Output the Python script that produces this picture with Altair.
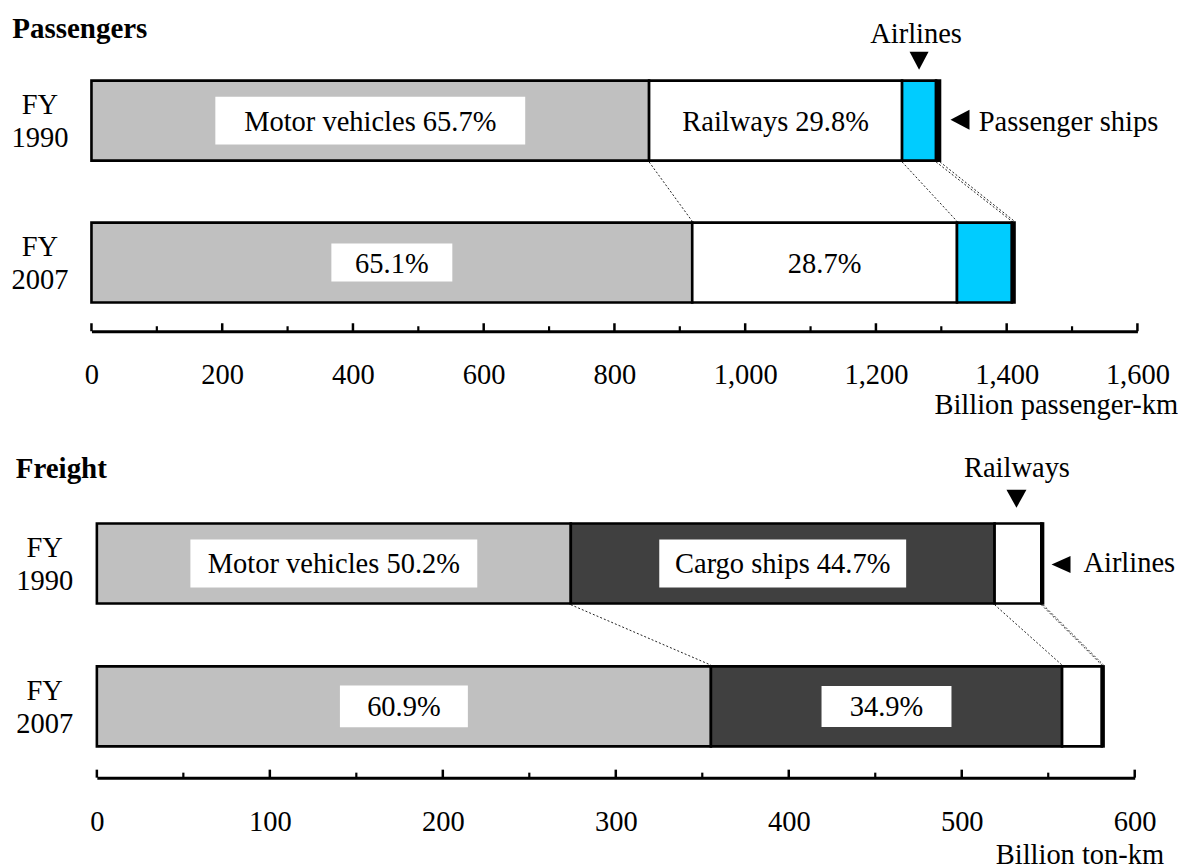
import altair as alt
import pandas as pd

# ---------------- data ----------------
YEARS = ["FY 1990", "FY 2007"]

P_MODES = ["Motor vehicles", "Railways", "Airlines", "Passenger ships"]
P_1990 = [853, 387, 52, 6]
P_2007 = [919, 405, 84, 4]
P_SHARE_1990 = [65.7, 29.8]
P_SHARE_2007 = [65.1, 28.7]
P_TICKS = [0, 200, 400, 600, 800, 1000, 1200, 1400, 1600]
P_MINOR = [100, 300, 500, 700, 900, 1100, 1300, 1500]

F_MODES = ["Motor vehicles", "Cargo ships", "Railways", "Airlines"]
F_1990 = [274, 245, 27, 1]
F_2007 = [355, 203, 23, 1]
F_SHARE_1990 = [50.2, 44.7]
F_SHARE_2007 = [60.9, 34.9]
F_TICKS = [0, 100, 200, 300, 400, 500, 600]
F_MINOR = [50, 150, 250, 350, 450, 550]

# ---------------- style ----------------
FONT = "Liberation Serif"
FS = 28.5
P_COLORS = ["#c0c0c0", "#ffffff", "#00ccff", "#000000"]
F_COLORS = ["#c0c0c0", "#404040", "#ffffff", "#ffffff"]
# white label boxes (width, height) keyed by (year index, segment index)
P_BOX = {(0, 0): (310, 48), (1, 0): (121, 38)}
F_BOX = {(0, 0): (287, 48), (0, 1): (247, 48), (1, 0): (128, 42), (1, 1): (130, 41)}


def rect_path(w, h):
    r = h / w
    return f"M-1,{-r:.4f}L1,{-r:.4f}L1,{r:.4f}L-1,{r:.4f}Z"


def down_path(w, h):
    r = h / w
    return f"M-1,{-r:.4f}L1,{-r:.4f}L0,{r:.4f}Z"


def left_path(w, h):
    r = h / w
    return f"M1,{-r:.4f}L1,{r:.4f}L-1,0Z"


def panel(title, modes, vals, shares, colors, boxes, xmax, ticks, minor, unit,
          width, xrange, height, yrange, pad_inner, title_dx, title_dy,
          ylab_pad, ylab_off, unit_x, unit_y, top_note, right_note):
    rows, conn, labels = [], [], []
    cums = []
    for yi, (year, vv) in enumerate(zip(YEARS, vals)):
        cum = 0
        ends = []
        for i, (m, v) in enumerate(zip(modes, vv)):
            rows.append(dict(year=year, mode=m, value=v, order=i))
            cum += v
            ends.append(cum)
        cums.append(ends)
        for i, s in enumerate(shares[yi]):
            mid = sum(vv[:i]) + vv[i] / 2
            txt = (f"{modes[i]} {s}%" if yi == 0 else f"{s}%")
            w, h = boxes.get((yi, i), (2, 2))
            labels.append(dict(year=year, mid=mid, label=txt, path=rect_path(w, h),
                               size=w * w, show=1 if (yi, i) in boxes else 0))
    for a, b in zip(cums[0], cums[1]):
        conn.append(dict(year=YEARS[0], year2=YEARS[1], a=a, b=b))

    bars_df = pd.DataFrame(rows)
    conn_df = pd.DataFrame(conn)
    lab_df = pd.DataFrame(labels)
    box_df = lab_df[lab_df["show"] == 1]

    xscale = alt.Scale(domain=[0, xmax], range=xrange, nice=False, zero=True)
    yscale = alt.Scale(domain=YEARS, range=yrange, paddingInner=pad_inner, paddingOuter=0)

    xaxis = alt.Axis(
        title=unit, values=ticks, format=",d", labelFont=FONT, labelFontSize=FS,
        labelColor="black", labelBaseline="middle", labelPadding=43.5,
        labelFlush=False, labelOverlap=False, ticks=False, tickSize=0,
        domainColor="black", domainWidth=3, grid=False, titleFont=FONT,
        titleFontSize=FS, titleFontWeight="normal", titleColor="black",
        titleX=unit_x, titleY=unit_y, titleAlign="right", titleBaseline="middle",
        titleAngle=0,
    )
    yaxis = alt.Axis(
        title=None, domain=False, ticks=False, tickSize=0, grid=False, labelFont=FONT,
        labelFontSize=FS, labelColor="black", labelAlign="center",
        labelBaseline="middle", labelPadding=ylab_pad, labelLineHeight=33,
        labelOffset=ylab_off, labelExpr="split(datum.label, ' ')",
    )

    def X(field, **kw):
        return alt.X(field, scale=xscale, axis=xaxis, **kw)

    def Y(field):
        return alt.Y(field, scale=yscale, axis=yaxis, sort=YEARS)

    bars = alt.Chart(bars_df).mark_bar(stroke="black", strokeWidth=2.6).encode(
        x=X("value:Q", stack="zero"),
        y=Y("year:N"),
        color=alt.Color("mode:N", scale=alt.Scale(domain=modes, range=colors), legend=None),
        order=alt.Order("order:Q"),
    )

    connectors = alt.Chart(conn_df).mark_rule(
        color="#222", strokeWidth=1, strokeDash=[2, 2], yOffset=41.3, y2Offset=-41.3
    ).encode(x=X("a:Q"), x2="b:Q", y=Y("year:N"), y2="year2:N")

    major = alt.Chart(pd.DataFrame({"t": ticks})).mark_rule(color="black", strokeWidth=2.5).encode(
        x=X("t:Q"), y=alt.value(height - 8), y2=alt.value(height)
    )
    minor_r = alt.Chart(pd.DataFrame({"t": minor})).mark_rule(color="black", strokeWidth=2.2).encode(
        x=X("t:Q"), y=alt.value(height - 5), y2=alt.value(height)
    )

    box = alt.Chart(box_df).mark_point(filled=True, fill="white", opacity=1, strokeWidth=0).encode(
        x=X("mid:Q"), y=Y("year:N"),
        shape=alt.Shape("path:N", scale=None), size=alt.Size("size:Q", scale=None),
    )
    text = alt.Chart(lab_df).mark_text(
        font=FONT, fontSize=FS, color="black", align="center", baseline="middle", dy=1
    ).encode(x=X("mid:Q"), y=Y("year:N"), text="label:N")

    # annotation above the bar (segment index k of FY 1990)
    k, ttxt, tdx, tdy, tri_dx, tri_dy, tw, th = top_note
    tnote = pd.DataFrame([dict(year=YEARS[0], x=sum(vals[0][:k]) + vals[0][k] / 2, label=ttxt,
                               path=down_path(tw, th), size=tw * tw)])
    top_text = alt.Chart(tnote).mark_text(
        font=FONT, fontSize=FS, color="black", align="center", baseline="middle", dx=tdx, dy=tdy
    ).encode(x=X("x:Q"), y=Y("year:N"), text="label:N")
    top_tri = alt.Chart(tnote).mark_point(
        filled=True, fill="black", opacity=1, strokeWidth=0, xOffset=tri_dx, yOffset=tri_dy
    ).encode(x=X("x:Q"), y=Y("year:N"),
             shape=alt.Shape("path:N", scale=None), size=alt.Size("size:Q", scale=None))

    # annotation to the right of the FY 1990 bar
    rtxt, rdx, rdy, rtri_dx, rtri_dy, rw, rh = right_note
    rnote = pd.DataFrame([dict(year=YEARS[0], x=sum(vals[0]), label=rtxt,
                               path=left_path(rw, rh), size=rw * rw)])
    right_tri = alt.Chart(rnote).mark_point(
        filled=True, fill="black", opacity=1, strokeWidth=0, xOffset=rtri_dx, yOffset=rtri_dy
    ).encode(x=X("x:Q"), y=Y("year:N"),
             shape=alt.Shape("path:N", scale=None), size=alt.Size("size:Q", scale=None))
    right_text = alt.Chart(rnote).mark_text(
        font=FONT, fontSize=FS, color="black", align="left", baseline="middle", dx=rdx, dy=rdy
    ).encode(x=X("x:Q"), y=Y("year:N"), text="label:N")

    return alt.layer(
        bars, connectors, major, minor_r, box, text, top_text, top_tri, right_tri, right_text
    ).properties(
        width=width, height=height,
        title=alt.TitleParams(
            text=title, anchor="start", frame="group", orient="top", dx=title_dx,
            dy=title_dy, offset=0, baseline="alphabetic", font=FONT, fontSize=29,
            fontWeight="bold", color="black",
        ),
    )


passengers = panel(
    "Passengers", P_MODES, [P_1990, P_2007], [P_SHARE_1990, P_SHARE_2007], P_COLORS, P_BOX,
    1600, P_TICKS, P_MINOR, "Billion passenger-km",
    width=1046.4, xrange=[0, 1046.4], height=251.7, yrange=[1, 223], pad_inner=62 / 142,
    title_dx=-79.3, title_dy=47, ylab_pad=52, ylab_off=-15.5, unit_x=1086.7, unit_y=73.3,
    top_note=(2, "Airlines", -3, -87, 0, -60, 19, 18),
    right_note=("Passenger ships", 38.8, 1, 20, -1, 19, 20),
)

freight = panel(
    "Freight", F_MODES, [F_1990, F_2007], [F_SHARE_1990, F_SHARE_2007], F_COLORS, F_BOX,
    600, F_TICKS, F_MINOR, "Billion ton-km",
    width=1043.7, xrange=[5.4, 1043.7], height=255.3, yrange=[1, 224], pad_inner=63 / 143,
    title_dx=-75.8, title_dy=52.8, ylab_pad=47.3, ylab_off=-15.5, unit_x=1072.7, unit_y=77,
    top_note=(2, "Railways", -1, -95, -1.5, -64.7, 20, 18),
    right_note=("Airlines", 40.4, 0, 18, 1, 19, 17),
)

chart = alt.vconcat(passengers, freight, spacing=191, bounds="flush").resolve_scale(
    x="independent", y="independent", color="independent"
).properties(
    padding={"left": 2.5, "top": 5.5, "right": 0, "bottom": 0}
).configure_view(strokeWidth=0, stroke="transparent")

chart.save("out.html", embed_options={"renderer": "svg", "actions": False})
